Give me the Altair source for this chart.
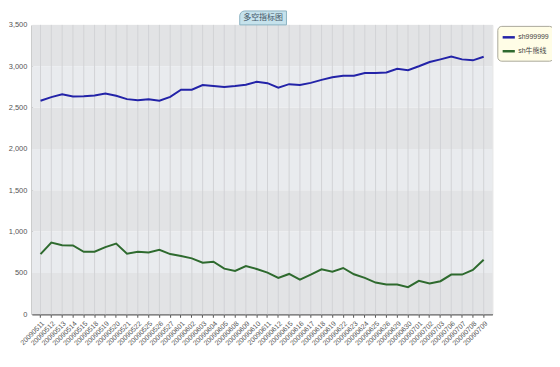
import altair as alt
import pandas as pd

dates = ["20090511","20090512","20090513","20090514","20090515","20090518","20090519",
         "20090520","20090521","20090522","20090525","20090526","20090527","20090601",
         "20090602","20090603","20090604","20090605","20090608","20090609","20090610",
         "20090611","20090612","20090615","20090616","20090617","20090618","20090619",
         "20090622","20090623","20090624","20090625","20090626","20090629","20090630",
         "20090701","20090702","20090703","20090706","20090707","20090708","20090709"]

sh999999 = [2583, 2626, 2661, 2634, 2638, 2646, 2669, 2642, 2602, 2590, 2602, 2583,
            2630, 2717, 2717, 2772, 2760, 2748, 2760, 2776, 2811, 2795, 2740, 2783,
            2772, 2799, 2835, 2866, 2886, 2886, 2917, 2917, 2925, 2969, 2953, 3000,
            3051, 3083, 3118, 3083, 3071, 3114]

bull_bear = [728, 868, 836, 832, 756, 756, 812, 856, 732, 756, 748, 780, 728, 704,
             676, 624, 636, 552, 524, 584, 548, 504, 440, 488, 420, 480, 544, 516,
             560, 484, 440, 384, 360, 360, 328, 404, 372, 400, 480, 480, 536, 660]

series_names = ["sh999999", "sh牛熊线"]
series_colors = ["#2323a8", "#2e6a2e"]
y_ticks = [0, 500, 1000, 1500, 2000, 2500, 3000, 3500]
title_text = "多空指标图"

FONT = "Liberation Sans, Noto Sans CJK SC"

rows = []
for d, a, b in zip(dates, sh999999, bull_bear):
    rows.append({"date": d, "series": series_names[0], "value": a})
    rows.append({"date": d, "series": series_names[1], "value": b})
df = pd.DataFrame(rows)

bands = pd.DataFrame({"y0": y_ticks[:-1], "y1": y_ticks[1:]})
bands["dark"] = [i % 2 == 0 for i in range(len(bands))]
dark_bands = bands[bands["dark"]]
light_bands = bands[~bands["dark"]]

W, H = 463, 291

xscale = alt.Scale(domain=dates, padding=0.6)
yscale = alt.Scale(domain=[0, 3500], nice=False)

x_axis = alt.Axis(labelAngle=-45, labelFontSize=7, labelColor="#555",
                  labelFont=FONT, tickSize=3, tickColor="#555",
                  domainColor="#666", domainWidth=1.5, grid=False,
                  labelPadding=2, title=None)
y_axis = alt.Axis(values=y_ticks, format=",.0f", labelFontSize=7.5,
                  labelColor="#555", labelFont=FONT, tickSize=0,
                  labelPadding=5, domainColor="#777", domainWidth=1.5,
                  grid=False, title=None)

band_dark = alt.Chart(dark_bands).mark_rect(color="#e2e3e5").encode(
    y=alt.Y("y0:Q", scale=yscale, axis=y_axis), y2="y1:Q")
band_light = alt.Chart(light_bands).mark_rect(color="#e9ebee").encode(
    y=alt.Y("y0:Q", scale=yscale, axis=y_axis), y2="y1:Q")

vgrid = alt.Chart(pd.DataFrame({"date": dates})).mark_rule(
    color="#d2d3d6", strokeWidth=1).encode(
    x=alt.X("date:N", sort=dates, scale=xscale, axis=x_axis))

lines = alt.Chart(df).mark_line(strokeWidth=2).encode(
    x=alt.X("date:N", sort=dates, scale=xscale, axis=x_axis),
    y=alt.Y("value:Q", scale=yscale, axis=y_axis),
    color=alt.Color("series:N", sort=series_names,
                    scale=alt.Scale(domain=series_names, range=series_colors),
                    legend=alt.Legend(title=None, orient="none", legendX=468,
                                      legendY=1, symbolType="stroke",
                                      symbolSize=150, symbolStrokeWidth=2.5,
                                      labelFontSize=7, labelFont=FONT,
                                      labelColor="#444", rowPadding=1,
                                      padding=4, fillColor="#fffde6",
                                      strokeColor="#aaa89a", cornerRadius=4,
                                      labelOffset=2)),
    order=alt.Order("series:N"),
)

one = pd.DataFrame({"k": [0]})
title_box = alt.Chart(one).mark_rect(
    fill="#c6e2ec", stroke="#8cb2c2", strokeWidth=1, cornerRadiusTopLeft=5
).encode(x=alt.value(209), x2=alt.value(256), y=alt.value(-14), y2=alt.value(0))
title_txt = alt.Chart(one).mark_text(
    text=title_text, fontSize=8, font=FONT, color="#445566", align="center",
    baseline="middle"
).encode(x=alt.value(232.5), y=alt.value(-7))

chart = alt.layer(band_dark, band_light, vgrid, lines, title_box, title_txt).properties(
    width=W, height=H,
    autosize=alt.AutoSizeParams(type="none"),
    padding={"left": 24, "top": 16, "right": 60, "bottom": 50},
).configure_view(stroke="#a9a9a9", strokeWidth=1.5).configure(background="white")

chart.save("out.html", embed_options={"renderer": "svg", "actions": False})
